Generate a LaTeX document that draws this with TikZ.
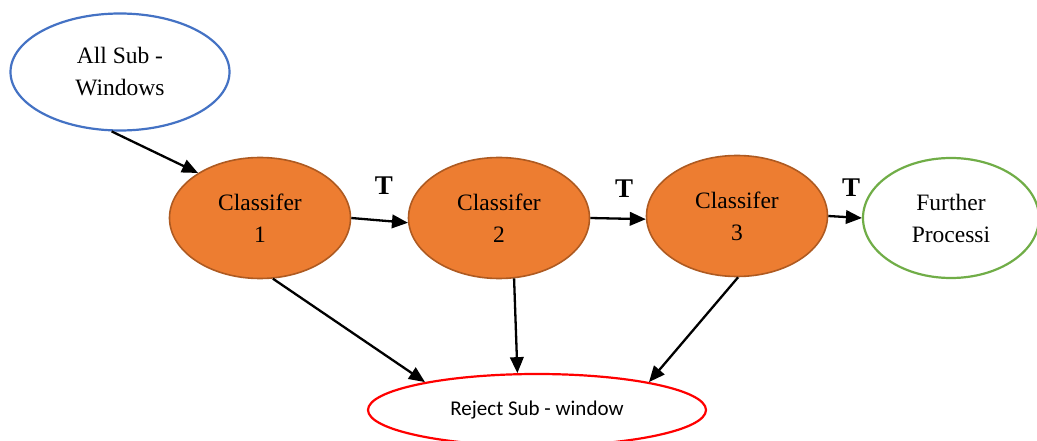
\documentclass[tikz,border=0pt]{standalone}
\usepackage{fontspec}
\setmainfont{Liberation Serif}
\newfontfamily\calibrifont{Carlito}
\usetikzlibrary{shapes.geometric,arrows.meta}
\definecolor{stagefill}{HTML}{ED7D31}
\definecolor{stageedge}{HTML}{AE5A21}
\definecolor{inputedge}{HTML}{4472C4}
\definecolor{outputedge}{HTML}{70AD47}
\definecolor{rejectedge}{HTML}{FF0000}
\begin{document}
\begin{tikzpicture}[x=1pt,y=-1pt,
  serifbig/.style={font=\fontsize{23.5}{32}\selectfont},
  bubble/.style={ellipse,inner sep=0pt,align=center,line width=2.2pt,fill=white,serifbig},
  stage/.style={ellipse,inner sep=0pt,align=center,draw=stageedge,fill=stagefill,line width=1.6pt,
    minimum width=181pt,minimum height=121pt,serifbig},
  flow/.style={line width=2.3pt,-{Triangle[length=16pt,width=13.5pt]}},
  truelabel/.style={font=\fontsize{27}{30}\selectfont\bfseries,inner sep=0pt}
]
\useasboundingbox (0,0) rectangle (1037,441);
\clip (0,0) rectangle (1037,441);

% nodes
\node[bubble,draw=inputedge,minimum width=219pt,minimum height=117pt] (all) at (120,72) {All Sub -\\Windows};
\node[stage] (c1) at (260,218) {Classifer\\1};
\node[stage] (c2) at (499,218) {Classifer\\2};
\node[stage] (c3) at (737,216) {Classifer\\3};
\node[bubble,draw=outputedge,minimum width=176pt,minimum height=120pt] (fp) at (951,218) {Further\\Processi};
\node[bubble,draw=rejectedge,minimum width=338pt,minimum height=72pt,font=\calibrifont\fontsize{21}{25}\selectfont] (rej) at (537,410) {Reject Sub - window};

% true-path labels
\node[truelabel] (t1) at (384,186) {T};
\node[truelabel] (t2) at (624,189) {T};
\node[truelabel] (t3) at (851,188) {T};

% connectors
\draw[flow] (all.262) -- (c1.144);
\draw[flow] (c1.east) -- (c2.183);
\draw[flow] (c2.east) -- (c3.182);
\draw[flow] (c3.east) -- (fp.west);
\draw[flow] (c1.-78) -- (rej.166);
\draw[flow] (c2.-76) -- (rej.118);
\draw[flow] (c3.-89) -- (rej.14);
\end{tikzpicture}
\end{document}
